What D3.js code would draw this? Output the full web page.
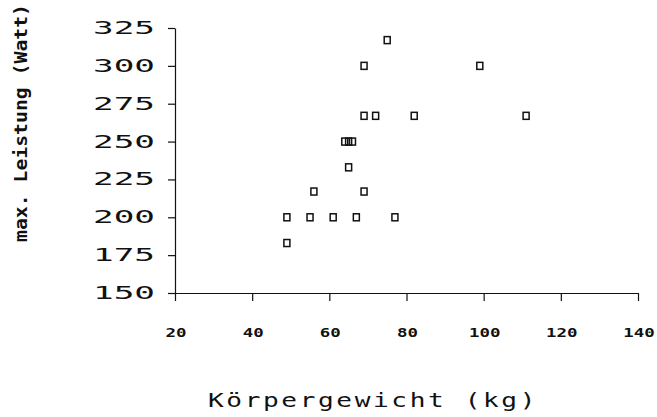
<!DOCTYPE html>
<html lang="de">
    <head>
        <meta charset="utf-8">
        <title>max. Leistung vs. Koerpergewicht</title>
        <script type="text/javascript" src="https://cdn.jsdelivr.net/npm/d3@7/dist/d3.min.js"></script>
        <style>
            body { margin: 0; background: #fff; }
        </style>
    </head>
    <body>
    <svg width="657" height="417"></svg>
        <script type="text/javascript">
            // Koerpergewicht (kg) and max. Leistung (Watt)
            var gewicht  = [49, 49, 55, 61, 67, 77, 56, 69, 65, 64, 65, 66, 69, 72, 82, 111, 69, 99, 75];
            var leistung = [183, 200, 200, 200, 200, 200, 217, 217, 233, 250, 250, 250, 267, 267, 267, 267, 300, 300, 317];
            var xTicks = [20, 40, 60, 80, 100, 120, 140];
            var yTicks = [150, 175, 200, 225, 250, 275, 300, 325];

            var svg = d3.select('svg');
            var mono = "'DejaVu Sans Mono', monospace";

            var xScale = d3.scaleLinear().domain([20, 140]).range([175, 638]),
                yScale = d3.scaleLinear().domain([150, 325]).range([293, 28]);

            // x axis
            var gx = svg.append('g')
                .attr('transform', 'translate(0,293)')
                .call(d3.axisBottom(xScale).tickValues(xTicks).tickSize(8).tickSizeOuter(0).tickFormat(''));
            gx.select('.domain').attr('stroke', '#111').attr('stroke-width', 1.2);
            gx.selectAll('.tick line').attr('stroke', '#111').attr('stroke-width', 1.2);

            svg.append('g').selectAll('text')
                .data(xTicks)
                .enter().append('text')
                .attr('x', function(d) { return xScale(d) + 1; })
                .attr('y', 337)
                .attr('text-anchor', 'middle')
                .attr('font-family', mono)
                .attr('font-weight', 'bold')
                .attr('font-size', '12.5px')
                .attr('textLength', function(d) { return String(d).length * 10.5; })
                .attr('lengthAdjust', 'spacingAndGlyphs')
                .attr('fill', '#111')
                .text(function(d) { return d; });

            // y axis
            var gy = svg.append('g')
                .attr('transform', 'translate(175,0)')
                .call(d3.axisLeft(yScale).tickValues(yTicks).tickSize(7).tickSizeOuter(0).tickFormat(''));
            gy.select('.domain').attr('stroke', '#111').attr('stroke-width', 1.2);
            gy.selectAll('.tick line').attr('stroke', '#111').attr('stroke-width', 1.2);

            svg.append('g').selectAll('text')
                .data(yTicks)
                .enter().append('text')
                .attr('x', 155)
                .attr('y', function(d) { return yScale(d) + 6; })
                .attr('text-anchor', 'end')
                .attr('font-family', mono)
                .attr('font-size', '17px')
                .attr('textLength', 62)
                .attr('lengthAdjust', 'spacingAndGlyphs')
                .attr('fill', '#111')
                .text(function(d) { return d; });

            // axis titles
            svg.append('text')
                .attr('x', 373)
                .attr('y', 407)
                .attr('text-anchor', 'middle')
                .attr('font-family', mono)
                .attr('font-size', '20px')
                .attr('letter-spacing', '2px')
                .attr('textLength', 330)
                .attr('lengthAdjust', 'spacingAndGlyphs')
                .attr('fill', '#111')
                .text('Körpergewicht (kg)');

            svg.append('text')
                .attr('transform', 'translate(27,123) rotate(-90)')
                .attr('text-anchor', 'middle')
                .attr('font-family', mono)
                .attr('font-weight', 'bold')
                .attr('font-size', '17px')
                .attr('textLength', 238)
                .attr('lengthAdjust', 'spacingAndGlyphs')
                .attr('fill', '#111')
                .text('max. Leistung (Watt)');

            // points
            var data = gewicht.map(function(g, i) { return { x: g, y: leistung[i] }; });
            svg.append('g').selectAll('rect')
                .data(data)
                .enter().append('rect')
                .attr('x', function(d) { return xScale(d.x) - 3; })
                .attr('y', function(d) { return yScale(d.y) - 3.5; })
                .attr('width', 6)
                .attr('height', 7)
                .attr('fill', 'none')
                .attr('stroke', '#111')
                .attr('stroke-width', 1.5);
        </script>
    </body>
</html>
